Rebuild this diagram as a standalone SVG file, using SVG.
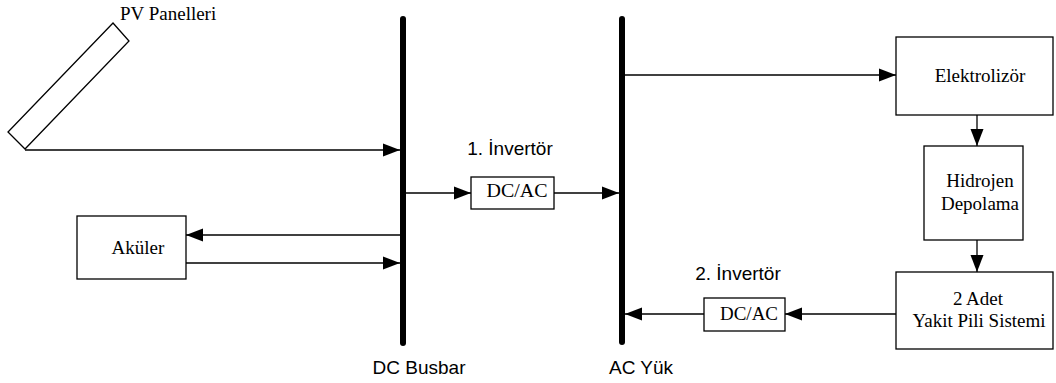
<svg xmlns="http://www.w3.org/2000/svg" width="1056" height="383" viewBox="0 0 1056 383">
<style>
.box{fill:#fff;stroke:#000;stroke-width:1.3}
.bar{stroke:#000;stroke-width:6;stroke-linecap:round}
.ln{stroke:#000;stroke-width:1.3;fill:none;marker-end:url(#ah)}
.s{font-family:"Liberation Serif",serif;font-size:19px;fill:#000}
.a{font-family:"Liberation Sans",sans-serif;font-size:19px;fill:#000}
</style>
<defs>
<marker id="ah" markerUnits="userSpaceOnUse" markerWidth="17" markerHeight="14" refX="17" refY="7" orient="auto">
<path d="M0,0.5 L17,7 L0,13.5 Z" fill="#000"/>
</marker>
</defs>
<g id="pv">
<polygon class="box" points="113,23 129,41 25,149 8,132"/>
<text class="s" x="120" y="20">PV Panelleri</text>
</g>
<g id="dcbus">
<line class="bar" x1="403" y1="19" x2="403" y2="343"/>
<text class="a" x="419" y="374" text-anchor="middle">DC Busbar</text>
</g>
<g id="acbus">
<line class="bar" x1="622" y1="19" x2="622" y2="342"/>
<text class="a" x="641" y="374" text-anchor="middle">AC Yük</text>
</g>
<g id="akuler">
<rect class="box" x="77" y="216" width="109" height="63"/>
<text class="s" x="138" y="254" text-anchor="middle">Aküler</text>
</g>
<g id="inv1">
<rect class="box" x="471" y="177" width="83" height="32"/>
<text class="s" x="517" y="197" text-anchor="middle" textLength="61" lengthAdjust="spacingAndGlyphs">DC/AC</text>
<text class="a" x="510" y="155" text-anchor="middle">1. İnvertör</text>
</g>
<g id="inv2">
<rect class="box" x="704" y="298" width="81" height="33"/>
<text class="s" x="749" y="320" text-anchor="middle" textLength="58" lengthAdjust="spacingAndGlyphs">DC/AC</text>
<text class="a" x="738" y="280" text-anchor="middle">2. İnvertör</text>
</g>
<g id="elektrolizor">
<rect class="box" x="896" y="37" width="157" height="78"/>
<text class="s" x="980" y="82" text-anchor="middle">Elektrolizör</text>
</g>
<g id="hidrojen">
<rect class="box" x="924" y="146" width="99" height="94"/>
<text class="s" x="980" y="187" text-anchor="middle">Hidrojen</text>
<text class="s" x="980" y="210" text-anchor="middle">Depolama</text>
</g>
<g id="yakit">
<rect class="box" x="896" y="272" width="157" height="77"/>
<text class="s" x="978" y="305" text-anchor="middle">2 Adet</text>
<text class="s" x="979" y="327" text-anchor="middle">Yakit Pili Sistemi</text>
</g>
<g id="connectors">
<line class="ln" x1="25" y1="150" x2="400" y2="150"/>
<line class="ln" x1="403" y1="235" x2="186" y2="235"/>
<line class="ln" x1="186" y1="263" x2="400" y2="263"/>
<line class="ln" x1="403" y1="193" x2="471" y2="193"/>
<line class="ln" x1="554" y1="193" x2="619" y2="193"/>
<line class="ln" x1="622" y1="75" x2="896" y2="75"/>
<line class="ln" x1="977" y1="115" x2="977" y2="146"/>
<line class="ln" x1="977" y1="240" x2="977" y2="272"/>
<line class="ln" x1="896" y1="314" x2="785" y2="314"/>
<line class="ln" x1="704" y1="314" x2="625" y2="314"/>
</g>
</svg>
